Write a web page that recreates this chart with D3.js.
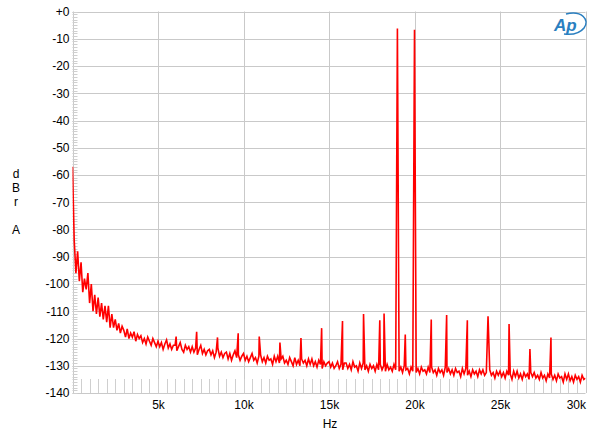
<!DOCTYPE html>
<html>
<head>
<meta charset="utf-8">
<script src="https://cdn.jsdelivr.net/npm/d3@7"></script>
<style>
  html, body { margin: 0; padding: 0; background: #fff; }
  svg { display: block; }
  text { font-family: "Liberation Sans", Arial, sans-serif; fill: #000; }
</style>
</head>
<body>
<svg id="chart" width="600" height="434"></svg>
<script>
// ---------------- DATA ----------------
const yTicks = [0, -10, -20, -30, -40, -50, -60, -70, -80, -90, -100, -110, -120, -130, -140];
const yTickLabels = ["+0", "-10", "-20", "-30", "-40", "-50", "-60", "-70", "-80", "-90", "-100", "-110", "-120", "-130", "-140"];
const xTicks = [5000, 10000, 15000, 20000, 25000, 30000];
const xTickLabels = ["5k", "10k", "15k", "20k", "25k", "30k"];
const xLabel = "Hz";
const yLabelLetters = ["d", "B", "r", "", "A"];

// FFT noise trace: one value per 100 Hz bin, starting at 0 Hz (rows = 1 kHz)
const noiseStartHz = 0;
const noiseStepHz = 100;
const noiseDb = [
  -57, -84, -96, -88, -99, -92, -103, -98, -102, -96,
  -107, -100, -110, -104, -111, -105, -112, -107, -113, -108,
  -114, -108, -116, -111, -116, -113, -117, -114.5, -118, -115.5,
  -117, -119.5, -116.5, -120, -118, -119.5, -117.5, -121, -118.5, -120,
  -119, -121.5, -120, -122, -119.5, -121, -122.5, -120, -121.5, -123,
  -121, -123, -121.5, -124, -122, -120.5, -123.5, -122, -124, -122.5,
  -122.5, -124.5, -123, -121.5, -124, -125, -122.5, -124, -123, -125,
  -123, -125, -123.5, -126, -124, -122.5, -125.5, -124, -126, -124.5,
  -124, -126, -124.5, -127, -125, -123.5, -126.5, -125, -127, -125.5,
  -125, -127.5, -125.5, -128, -126, -124.5, -127, -126, -128, -126.5,
  -125.5, -128, -126.5, -128.5, -127, -125.5, -128, -127, -129, -126.5,
  -126, -128.5, -127, -129, -126.5, -128, -127.5, -129.5, -126.5, -128.5,
  -126.5, -129, -127.5, -126.5, -129, -128, -129.5, -127, -128.5, -130,
  -127, -129.5, -128, -130, -127.5, -129, -128, -130, -127.5, -129.5,
  -127.5, -130, -128.5, -130.5, -128, -129.5, -131, -128.5, -130, -129,
  -128.5, -130.5, -129, -131, -130, -128.5, -131, -129.5, -131.5, -129,
  -129, -131, -129.5, -131.5, -128.5, -130.5, -130, -132, -129, -131,
  -129, -131.5, -130, -132, -129.5, -131, -130, -132, -129.5, -131.5,
  -129.5, -131.5, -130, -132, -129.5, -131.5, -130.5, -132, -129.5, -131.5,
  -130, -132, -130.5, -132.5, -130, -131.5, -131, -133, -130.5, -132,
  -130, -132.5, -131, -133, -130.5, -132, -131.5, -133, -130.5, -132.5,
  -130.5, -132.5, -131.5, -133.5, -131, -132.5, -131.5, -133.5, -130.5, -132.5,
  -131, -133, -131.5, -133.5, -131, -132.5, -132, -134, -131, -133,
  -131, -133.5, -132, -134, -131.5, -133, -132, -134, -131.5, -133,
  -131.5, -133.5, -132.5, -134, -131.5, -133.5, -132.5, -134.5, -132, -133.5,
  -132, -134, -132.5, -134.5, -132, -133.5, -133, -135, -132, -134,
  -132, -134.5, -133, -135, -132.5, -134, -133, -135, -132.5, -134,
  -132.5, -134.5, -133.5, -135, -132.5, -134.5, -133.5, -135.5, -133, -134.5,
  -133, -135, -133.5, -135.5, -133, -134.5, -134, -136, -133, -135,
  -133, -135.5, -134, -136, -133.5, -135, -134, -136, -133.5, -135,
  -134.5
];

// Tones and distortion spurs: frequency (Hz) and level (dBr)
const spurHz = [6060, 7260, 8480, 9690, 10920, 12130, 13360, 14570, 15790, 17020, 17970, 18220,
                19000, 19460, 20000, 20980, 21880, 23090, 24300, 25530, 26750, 27980];
const spurDb = [-119.3, -117.5, -119.6, -118.1, -119.3, -121.5, -119.8, -116.2, -113.6, -111.0, -113.3, -110.8,
                -6.2, -118.5, -6.7, -113.0, -111.4, -113.3, -111.8, -114.7, -123.9, -119.6];

// ---------------- LAYOUT ----------------
const plotLeft = 72.5, plotRight = 585.5, plotTop = 11.5, plotBottom = 393;
const gridColor = "#c9c9c9";
const minorColor = "#cfcfcf";
const traceColor = "#ff0000";

const svg = d3.select("#chart");
const x = d3.scaleLinear().domain([0, 30000]).range([plotLeft, plotRight]);
const y = d3.scaleLinear().domain([-140, 0]).range([plotBottom, plotTop]);

// build trace points
const pts = noiseDb.map((v, i) => ({ f: noiseStartHz + i * noiseStepHz, db: v }));
spurHz.forEach((f, i) => {
  const ex = pts.find(p => p.f === f);
  if (ex) ex.db = spurDb[i];
  else pts.push({ f: f, db: spurDb[i] });
});
pts.sort((a, b) => a.f - b.f);

// ---- grid ----
const g = svg.append("g");
g.selectAll("line.hg").data(yTicks).enter().append("line")
  .attr("x1", plotLeft).attr("x2", plotRight)
  .attr("y1", d => Math.round(y(d)) + 0.5).attr("y2", d => Math.round(y(d)) + 0.5)
  .attr("stroke", gridColor).attr("stroke-width", 1);
g.selectAll("line.vg").data([0].concat(xTicks)).enter().append("line")
  .attr("x1", d => Math.round(x(d)) + 0.5).attr("x2", d => Math.round(x(d)) + 0.5)
  .attr("y1", plotTop).attr("y2", plotBottom)
  .attr("stroke", gridColor).attr("stroke-width", 1);

// minor y ticks (1 dB)
const yMinor = d3.range(-140, 0.01, 1);
g.selectAll("line.ym").data(yMinor).enter().append("line")
  .attr("x1", plotLeft).attr("x2", plotLeft + 5)
  .attr("y1", d => Math.round(y(d)) + 0.5).attr("y2", d => Math.round(y(d)) + 0.5)
  .attr("stroke", minorColor).attr("stroke-width", 1);

// minor x ticks (500 Hz)
const xMinor = d3.range(500, 30000, 500);
g.selectAll("line.xm").data(xMinor).enter().append("line")
  .attr("x1", d => Math.round(x(d)) + 0.5).attr("x2", d => Math.round(x(d)) + 0.5)
  .attr("y1", plotBottom).attr("y2", plotBottom - 14)
  .attr("stroke", minorColor).attr("stroke-width", 1);

// ---- axes labels via d3 axes ----
const yAxis = d3.axisLeft(y).tickValues(yTicks).tickFormat((d, i) => yTickLabels[i]).tickSize(0).tickPadding(3);
const ya = svg.append("g").attr("transform", `translate(${plotLeft},0)`).call(yAxis);
ya.select(".domain").remove();
ya.selectAll("text").attr("font-size", 12).attr("font-family", "Liberation Sans, Arial, sans-serif").attr("fill", "#000");

const xAxis = d3.axisBottom(x).tickValues(xTicks).tickFormat((d, i) => xTickLabels[i]).tickSize(0).tickPadding(7);
const xa = svg.append("g").attr("transform", `translate(0,${plotBottom})`).call(xAxis);
xa.select(".domain").remove();
xa.selectAll("text").attr("font-size", 12).attr("font-family", "Liberation Sans, Arial, sans-serif").attr("fill", "#000")
  .attr("text-anchor", d => d === 30000 ? "end" : "middle");

svg.append("text").attr("x", (plotLeft + plotRight) / 2 + 1).attr("y", 428)
  .attr("text-anchor", "middle").attr("font-size", 12).text(xLabel);

svg.selectAll("text.yl").data(yLabelLetters).enter().append("text")
  .attr("x", 16).attr("y", (d, i) => 178 + i * 14)
  .attr("text-anchor", "middle").attr("font-size", 12).text(d => d);

// ---- trace ----
svg.append("clipPath").attr("id", "clip").append("rect")
  .attr("x", plotLeft).attr("y", plotTop).attr("width", plotRight - plotLeft).attr("height", plotBottom - plotTop);
const line = d3.line().x(d => x(d.f)).y(d => y(d.db));
svg.append("path").datum(pts)
  .attr("clip-path", "url(#clip)")
  .attr("d", line)
  .attr("fill", "none").attr("stroke", traceColor).attr("stroke-width", 1.6).attr("stroke-linejoin", "miter");

// ---- logo ----
const logo = svg.append("g").attr("transform", "translate(552,12)");
logo.append("path")
  .attr("d", "M 14 2 C 30 -2 38 8 32 16 C 28 21 20 23 12 22")
  .attr("fill", "none").attr("stroke", "#2a7fc0").attr("stroke-width", 1.6);
logo.append("text").attr("x", 2).attr("y", 19)
  .attr("font-size", 17).attr("font-style", "italic").attr("font-weight", "bold")
  .attr("fill", "#2a7fc0").style("fill", "#2a7fc0").text("Ap");
</script>
</body>
</html>
